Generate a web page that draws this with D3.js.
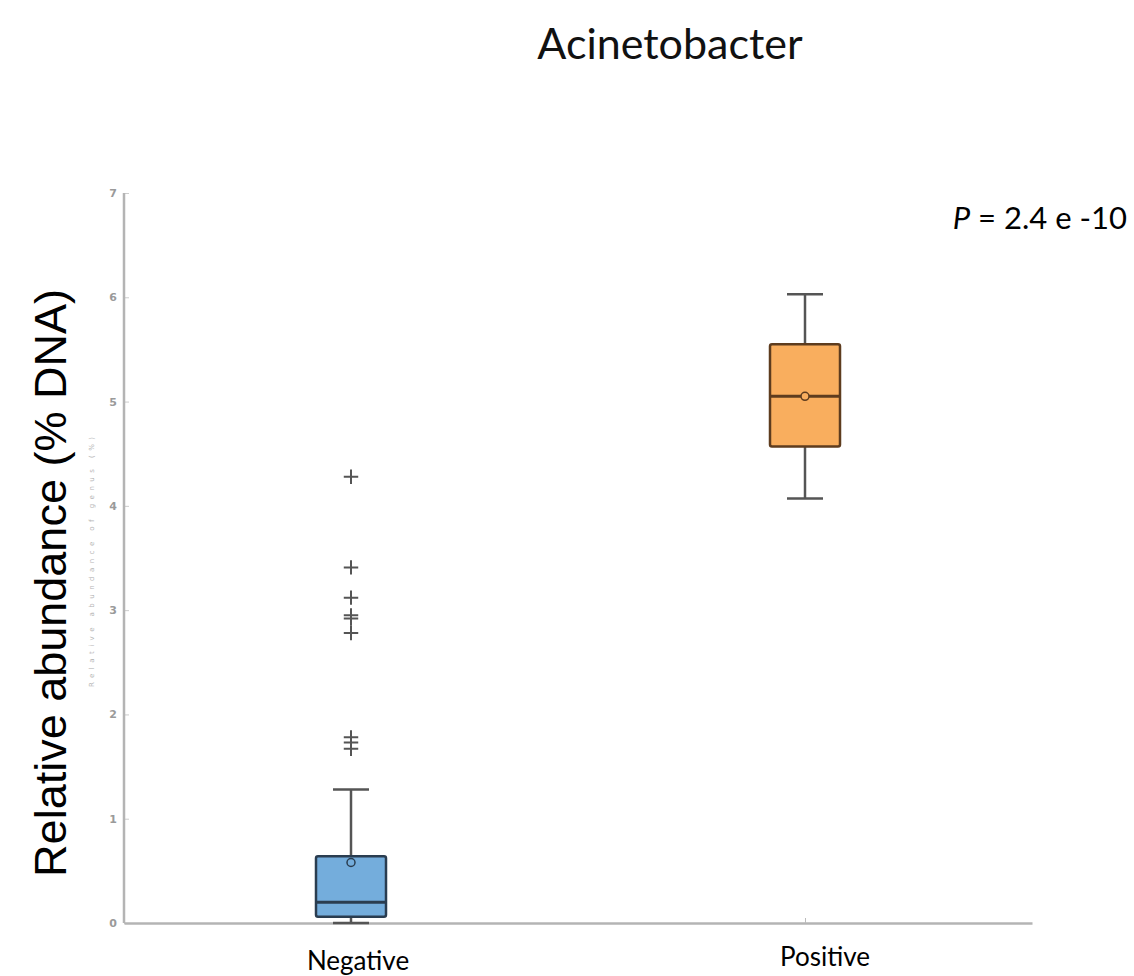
<!DOCTYPE html>
<html>
<head>
<meta charset="utf-8">
<script src="https://cdn.jsdelivr.net/npm/d3@7"></script>
<style>
	body { margin: 0; background: #fff; }
	svg { display: block; }
</style>
</head>
<body>
<div id="chart"></div>
<script>
// data
const groups = ['Negative', 'Positive']
const whiskerLow = [0.0, 4.07]
const q1 = [0.06, 4.57]
const medians = [0.2, 5.05]
const q3 = [0.64, 5.55]
const whiskerHigh = [1.28, 6.03]
const means = [0.58, 5.05]
const negativeOutliers = [4.28, 3.41, 3.12, 2.95, 2.92, 2.78, 1.78, 1.73, 1.67]
const yTicks = [0, 1, 2, 3, 4, 5, 6, 7]

const fills = ['#74addc', '#f9ae5e']
const strokes = ['#2a3d50', '#5e3c1e']

const width = 1134
const height = 976
const margin = { top: 193, left: 124, bottom: 53, right: 102 }

const svg = d3.select('#chart')
	.append('svg')
	.attr('width', width)
	.attr('height', height)

const x = d3.scalePoint()
	.domain(groups)
	.range([margin.left, width - margin.right])
	.padding(0.5)

const y = d3.scaleLinear()
	.domain([0, 7])
	.range([height - margin.bottom, margin.top])

// axes
const yAxis = svg.append('g')
	.attr('transform', `translate(${margin.left},0)`)
	.call(d3.axisRight(y).tickValues(yTicks).tickSize(5).tickFormat(''))
yAxis.select('.domain').remove()
yAxis.selectAll('.tick line').attr('stroke', '#ccc')

svg.append('g')
	.selectAll('text')
	.data(yTicks)
	.join('text')
	.attr('x', margin.left - 11)
	.attr('y', d => y(d) + 4)
	.attr('text-anchor', 'middle')
	.attr('font-family', 'DejaVu Sans')
	.attr('font-size', 11)
	.attr('font-weight', 'bold')
	.attr('fill', '#9a9a9a')
	.text(d => d)

svg.append('line')
	.attr('x1', margin.left).attr('x2', margin.left)
	.attr('y1', y(7)).attr('y2', y(0))
	.attr('stroke', '#b4b4b4').attr('stroke-width', 2.5)

const xAxis = svg.append('g')
	.attr('transform', `translate(0,${y(0)})`)
	.call(d3.axisBottom(x).tickSize(-5).tickFormat('').tickSizeOuter(0))
xAxis.select('.domain').attr('stroke', '#b4b4b4').attr('stroke-width', 2.5)
xAxis.selectAll('.tick line').attr('stroke', '#bbb')

// boxes
const boxW = 70
const capW = 36

groups.forEach((g, i) => {
	const cx = x(g)
	const grp = svg.append('g')

	grp.append('line')
		.attr('x1', cx).attr('x2', cx)
		.attr('y1', y(whiskerHigh[i])).attr('y2', y(q3[i]))
		.attr('stroke', '#555').attr('stroke-width', 2.5)
	grp.append('line')
		.attr('x1', cx).attr('x2', cx)
		.attr('y1', y(q1[i])).attr('y2', y(whiskerLow[i]))
		.attr('stroke', '#555').attr('stroke-width', 2.5)

	grp.selectAll('.cap')
		.data([whiskerHigh[i], whiskerLow[i]])
		.join('line')
		.attr('class', 'cap')
		.attr('x1', cx - capW / 2).attr('x2', cx + capW / 2)
		.attr('y1', d => y(d)).attr('y2', d => y(d))
		.attr('stroke', '#555').attr('stroke-width', 2.5)

	grp.append('rect')
		.attr('x', cx - boxW / 2)
		.attr('y', y(q3[i]))
		.attr('width', boxW)
		.attr('height', y(q1[i]) - y(q3[i]))
		.attr('rx', 2)
		.attr('fill', fills[i])
		.attr('stroke', strokes[i])
		.attr('stroke-width', 2.5)

	grp.append('line')
		.attr('x1', cx - boxW / 2).attr('x2', cx + boxW / 2)
		.attr('y1', y(medians[i])).attr('y2', y(medians[i]))
		.attr('stroke', strokes[i]).attr('stroke-width', 3)

	grp.append('circle')
		.attr('cx', cx).attr('cy', y(means[i]))
		.attr('r', 4)
		.attr('fill', fills[i])
		.attr('stroke', strokes[i])
		.attr('stroke-width', 1.5)
})

// outliers
svg.append('g')
	.selectAll('path')
	.data(negativeOutliers)
	.join('path')
	.attr('transform', d => `translate(${x('Negative')},${y(d)})`)
	.attr('d', d3.symbol(d3.symbolPlus, 70))
	.attr('fill', 'none')
	.attr('stroke', '#555')
	.attr('stroke-width', 2)

// category labels
svg.append('g')
	.selectAll('text')
	.data(groups)
	.join('text')
	.attr('x', (d, i) => x(d) + (i === 0 ? 7 : 20))
	.attr('y', (d, i) => i === 0 ? 970 : 966)
	.attr('text-anchor', 'middle')
	.attr('font-family', 'Lato')
	.attr('font-size', 26)
	.attr('fill', '#000')
	.text(d => d)

// title
svg.append('text')
	.attr('x', 670)
	.attr('y', 59)
	.attr('text-anchor', 'middle')
	.attr('font-family', 'Lato')
	.attr('font-size', 43)
	.attr('fill', '#111')
	.text('Acinetobacter')

// y label
svg.append('text')
	.attr('transform', 'translate(66,583) rotate(-90)')
	.attr('text-anchor', 'middle')
	.attr('font-family', 'Liberation Sans')
	.attr('font-size', 45)
	.attr('fill', '#000')
	.text('Relative abundance (% DNA)')

// faint leftover label of the original plot
svg.append('text')
	.attr('transform', 'translate(94,562) rotate(-90)')
	.attr('text-anchor', 'middle')
	.attr('font-family', 'DejaVu Sans')
	.attr('font-size', 7)
	.attr('textLength', 250)
	.attr('lengthAdjust', 'spacing')
	.attr('fill', '#b5b5b5')
	.text('Relative abundance of genus (%)')

// p value
const p = svg.append('text')
	.attr('x', 1127)
	.attr('y', 229)
	.attr('text-anchor', 'end')
	.attr('font-family', 'Lato')
	.attr('font-size', 31)
	.attr('fill', '#000')
p.append('tspan').attr('font-style', 'italic').text('P')
p.append('tspan').text(' = 2.4 e -10')
</script>
</body>
</html>
